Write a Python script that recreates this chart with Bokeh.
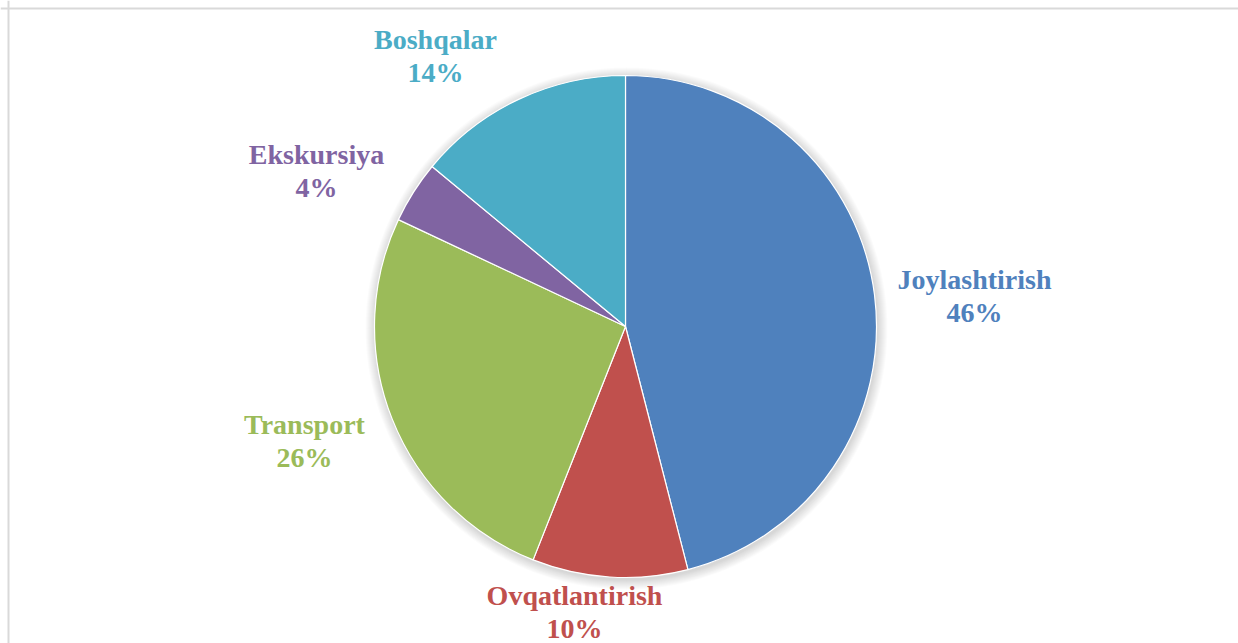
import math
from bokeh.plotting import figure
from bokeh.models import ColumnDataSource, Span, Range1d
from bokeh.core.properties import value
from bokeh.embed import file_html
from bokeh.resources import INLINE

# ---- data ----
categories = ["Joylashtirish", "Ovqatlantirish", "Transport", "Ekskursiya", "Boshqalar"]
shares = [46, 10, 26, 4, 14]
colors = ["#4F81BD", "#C0504D", "#9BBB59", "#8064A2", "#4BACC6"]

# ---- layout ----
W, H = 1238, 643
CX, CY, R = 625, 317, 251
# label offsets (first-line baseline) from pie centre, in px
label_dx = [349, -51, -321, -309, -190]
label_dy = [47, -269, -98, 172, 287]
LINE_GAP = 33
FONT = value("Liberation Serif")
FSIZE = "28px"

total = sum(shares)
starts, ends = [], []
cum = 0.0
for s in shares:
    a0 = math.pi / 2 - 2 * math.pi * cum / total
    cum += s
    a1 = math.pi / 2 - 2 * math.pi * cum / total
    starts.append(a0)
    ends.append(a1)

src = ColumnDataSource(dict(cat=categories, share=shares, color=colors,
                            start=starts, end=ends))

p = figure(width=W, height=H, output_backend="svg", toolbar_location=None,
           x_range=Range1d(0, W), y_range=Range1d(0, H),
           x_axis_location=None, y_axis_location=None, min_border=0)
p.grid.visible = False
p.outline_line_color = None
p.background_fill_color = "white"
p.border_fill_color = "white"

# soft shadow
for k in range(1, 11):
    p.circle(x=CX + 1, y=CY - 2, radius=R + k * 1.0, fill_color="black",
             fill_alpha=0.014, line_color=None)

p.wedge(x=CX, y=CY, radius=R, start_angle="start", end_angle="end",
        direction="clock", fill_color="color", line_color="white",
        line_width=1.2, source=src)

lsrc = ColumnDataSource(dict(
    x=[CX + d for d in label_dx],
    y1=[CY + d for d in label_dy],
    y2=[CY + d - LINE_GAP for d in label_dy],
    name=categories,
    pct=[f"{s}%" for s in shares],
    color=colors,
))
p.text(x="x", y="y1", text="name", text_color="color", text_align="center",
       text_baseline="alphabetic", text_font=FONT, text_font_style="bold",
       text_font_size=FSIZE, source=lsrc)
p.text(x="x", y="y2", text="pct", text_color="color", text_align="center",
       text_baseline="alphabetic", text_font=FONT, text_font_style="bold",
       text_font_size=FSIZE, source=lsrc)

# chart-area border (top & left visible)
p.add_layout(Span(location=H - 8, dimension="width", line_color="#d9d9d9", line_width=2))
p.add_layout(Span(location=8, dimension="height", line_color="#d9d9d9", line_width=2))

open("out.html", "w").write(file_html(p, INLINE))
